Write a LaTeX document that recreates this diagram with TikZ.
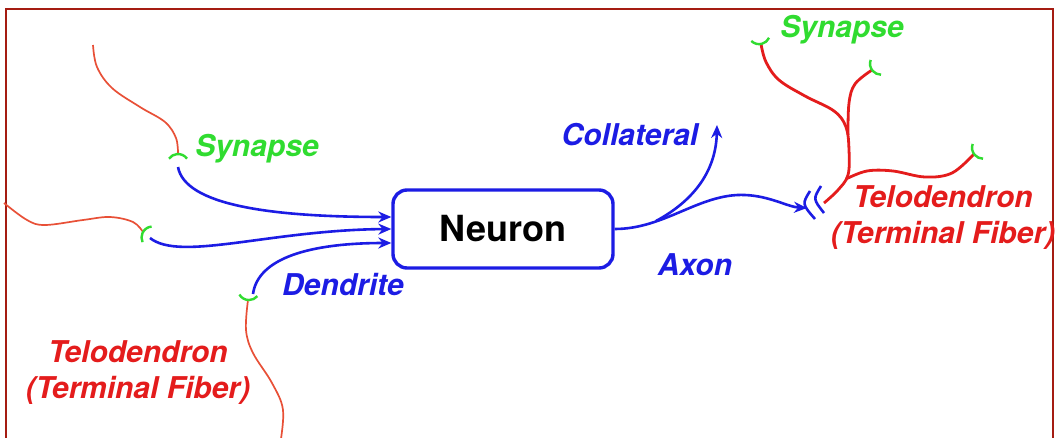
\documentclass[tikz,border=0pt]{standalone}
\usepackage{fontspec}
\setmainfont{TeX Gyre Heros}
\usetikzlibrary{arrows.meta}
\definecolor{framered}{RGB}{165,28,18}
\definecolor{nblue}{RGB}{28,28,228}
\definecolor{fibre}{RGB}{228,28,28}
\definecolor{fibrethin}{RGB}{232,80,55}
\definecolor{syngreen}{RGB}{48,220,48}
% synapse cap: arc whose middle sits on the fibre end, bulging towards the fibre
\newcommand\synmark[2]{%
  \draw[syncap] (#1) ++(#2+180:11pt) ++(#2-55:11pt)
    arc[start angle=#2-55, end angle=#2+55, radius=11pt];}
\begin{document}
\begin{tikzpicture}[x=1pt,y=-1pt,
  lbl/.style={font=\fontsize{30}{36}\selectfont\bfseries\itshape, align=center, inner sep=0pt},
  dend/.style={nblue, line width=2.6pt, -{Stealth[length=13pt,width=11pt]}},
  axonline/.style={nblue, line width=2.6pt},
  fibrel/.style={fibrethin, line width=1.7pt},
  fibrer/.style={fibre, line width=2.8pt},
  syncap/.style={syngreen, line width=2.4pt},
  cellbox/.style={draw=nblue, line width=3.4pt, rounded corners=14pt,
    minimum width=220pt, minimum height=78pt,
    font=\fontsize{36}{40}\selectfont\bfseries}]
\clip (0,0) rectangle (1055,437);
\fill[white] (0,0) rectangle (1055,437);
\draw[framered, line width=2.5pt] (6,9) rectangle (1053,450);

% cell body
\node[cellbox] (neuron) at (503,229) {Neuron};

% synapse points and dendrite starts
\coordinate (sA) at (178,154);
\coordinate (sB) at (143,232);
\coordinate (sC) at (248,300);
\coordinate (sD) at (761,44);
\coordinate (sE) at (872,70);
\coordinate (sF) at (974,154);
\coordinate (dA) at (178,167);
\coordinate (dB) at (150,238);
\coordinate (dC) at (253,294);

% incoming fibres (left)
\draw[fibrel] plot[smooth, tension=0.6] coordinates
  {(93,45) (97,67) (112,88) (140,107) (165,122) (176,138) (sA)};
\draw[fibrel] plot[smooth, tension=0.6] coordinates
  {(4,203) (27,220) (45,225) (83,220) (110,217) (133,222) (sB)};
\draw[fibrel] plot[smooth, tension=0.6] coordinates
  {(sC) (246,330) (253,353) (272,383) (283,410) (280,445)};

\synmark{sA}{90}
\synmark{sB}{150}
\synmark{sC}{265}

% dendrites
\draw[dend] (dA) .. controls (185,205) and (270,217) .. ([yshift=12pt]neuron.west);
\draw[dend] (dB) .. controls (180,262) and (270,230) .. (neuron.west);
\draw[dend] (dC) .. controls (258,258) and (310,243) .. ([yshift=-14pt]neuron.west);

% axon and collateral
\coordinate (axtip) at (807,208);
\coordinate (branch) at (656,221);
\coordinate (colltip) at (717,125);
\draw[axonline, -{Stealth[length=13pt,width=11pt]}] (neuron.east)
  .. controls (665,229) and (700,193) .. (745,195)
  .. controls (770,196) and (788,207) .. (axtip);
\draw[dend] (branch) .. controls (695,200) and (716,170) .. (colltip);

% break in the axon
\coordinate (mA) at (810,191);
\coordinate (mB) at (815,219);
\coordinate (mC) at (821,186);
\coordinate (mD) at (824,213);
\draw[axonline] (mA) .. controls (802,204) .. (mB);
\draw[axonline] (mC) .. controls (813,199) .. (mD);

% telodendron (right)
\draw[fibrer] plot[smooth, tension=0.6] coordinates
  {(824,203) (838,190) (848,175) (849,150) (846,127) (834,111) (805,96) (779,80) (766,62) (sD)};
\draw[fibrer] plot[smooth, tension=0.6] coordinates
  {(848,135) (849,103) (855,84) (sE)};
\draw[fibrer] plot[smooth, tension=0.6] coordinates
  {(846,179) (867,171) (893,171) (925,177) (952,173) (sF)};

\synmark{sD}{280}
\synmark{sE}{215}
\synmark{sF}{215}

% labels
\node[lbl, syngreen] (synL) at (257,149) {Synapse};
\node[lbl, syngreen] (synR) at (842,30) {Synapse};
\node[lbl, nblue] (dendl) at (343,285) {Dendrite};
\node[lbl, nblue] (colll) at (630,135) {Collateral};
\node[lbl, nblue] (axonl) at (695,265) {Axon};
\node[lbl, fibre] (teloL) at (138,373) {Telodendron\\(Terminal Fiber)};
\node[lbl, fibre] (teloR) at (943,218) {Telodendron\\(Terminal Fiber)};
\end{tikzpicture}
\end{document}
